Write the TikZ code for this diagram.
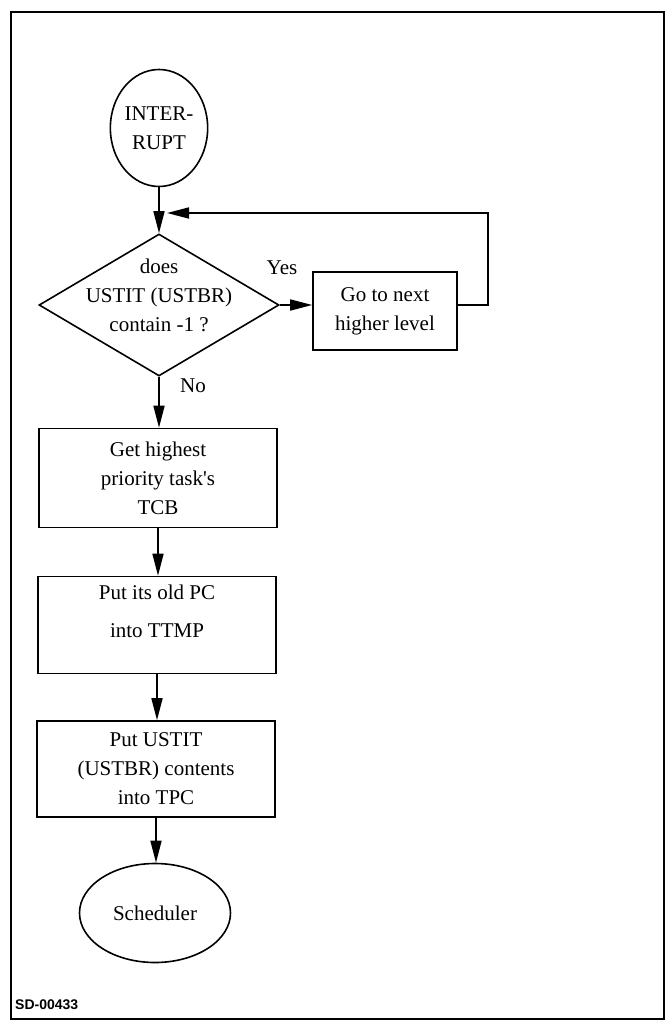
\documentclass[tikz,border=0pt]{standalone}
\usepackage{fontspec}
\setmainfont{Liberation Serif}[Ligatures=TeXOff]
\newfontfamily\labelfont{Liberation Sans}
\usetikzlibrary{shapes.geometric,arrows.meta}
\begin{document}
\begin{tikzpicture}[x=1pt,y=-1pt,
  every node/.style={font=\fontsize{21}{29}\selectfont, align=center},
  shapeline/.style={draw, line width=1.6pt, inner sep=0pt},
  boxnode/.style={shapeline, rectangle, minimum width=238pt},
  txt/.style={inner sep=0pt},
  flow/.style={line width=1.7pt, -{Triangle[length=22pt,width=11pt]}}]
\useasboundingbox (0,0) rectangle (668,1022);
\draw[line width=2pt] (11,12) rectangle (664,1019);

\node[shapeline, ellipse, minimum width=90pt, minimum height=117pt] (int) at (159,128) {INTER-\\RUPT};
\node[shapeline, diamond, minimum width=240pt, minimum height=142pt] (dec) at (159,305) {};
\node[txt] (dectxt) at (159,295) {does\\USTIT (USTBR)\\contain -1 ?};
\node[shapeline, rectangle, minimum width=144pt, minimum height=78pt] (next) at (385,311) {Go to next\\higher level};
\node[boxnode, minimum height=99pt] (tcb) at (158,478) {Get highest\\priority task's\\TCB};
\node[boxnode, minimum height=97pt] (pc) at (157,625) {};
\node[txt, font=\fontsize{21}{38}\selectfont] (pctxt) at (157,611) {Put its old PC\\into TTMP};
\node[boxnode, minimum height=96pt] (tpc) at (156,769) {Put USTIT\\(USTBR) contents\\into TPC};
\node[shapeline, ellipse, minimum width=151pt, minimum height=99pt] (sch) at (155,913) {Scheduler};

\node[txt] (yes) at (282,268) {Yes};
\node[txt] (no) at (193,386) {No};
\node[txt, anchor=south west, font=\labelfont\bfseries\fontsize{14}{16}\selectfont] (sd) at (15,1010) {SD-00433};

\coordinate (c1) at (488,305);
\coordinate (c2) at (488,213);
\coordinate (c3) at (167,213);

\draw[flow] (int.south) -- (dec.north);
\draw[flow] (dec.east) -- (next.west |- dec.east);
\draw[flow] (next.east |- c1) -- (c1) -- (c2) -- (c3);
\draw[flow] (dec.south) -- (dec.south |- tcb.north);
\draw[flow] (tcb.south) -- (tcb.south |- pc.north);
\draw[flow] (pc.south) -- (pc.south |- tpc.north);
\draw[flow] (tpc.south) -- (tpc.south |- sch.north);
\end{tikzpicture}
\end{document}
